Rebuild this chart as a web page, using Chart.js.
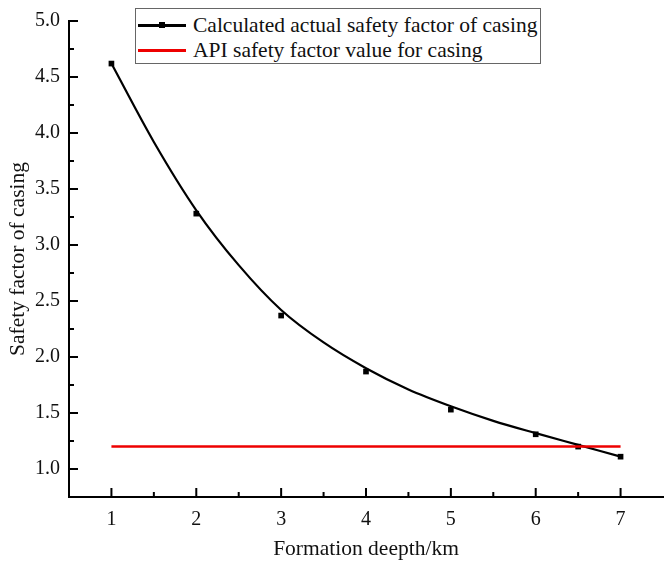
<!DOCTYPE html>
<html lang="en">
<head>
    <meta charset="UTF-8">
    <title>Safety factor of casing</title>
    <style>
        body { margin: 0; background: #fff; }
        .wrap { position: relative; width: 667px; height: 566px; }
        .legend {
            position: absolute; left: 135px; top: 8px; width: 406px; height: 56px;
            border: 1px solid #666; background: #fff; box-sizing: border-box;
            font-family: "Liberation Serif", serif; font-size: 21.5px; color: #111;
        }
        .row { position: absolute; left: 2px; height: 24px; line-height: 24px; white-space: nowrap; }
        .sample { position: absolute; left: 0; top: 11px; width: 48px; height: 2.5px; }
        .mark { position: absolute; left: 21px; top: -2px; width: 6px; height: 6px; background: #000; }
        .txt { position: absolute; left: 55px; top: 0; }
    </style>
</head>
<body>
<div class="wrap">
    <canvas id="chart" width="667" height="566"></canvas>
    <div class="legend">
        <div class="row" style="top:4px"><div class="sample" style="background:#000"><div class="mark"></div></div><span class="txt">Calculated actual safety factor of casing</span></div>
        <div class="row" style="top:29px"><div class="sample" style="background:#ee0000"></div><span class="txt">API safety factor value for casing</span></div>
    </div>
</div>
<script src="https://cdn.jsdelivr.net/npm/chart.js"></script>
<script>
    // measured points
    const depth = [1, 2, 3, 4, 5, 6, 6.5, 7];
    const factor = [4.62, 3.28, 2.37, 1.87, 1.53, 1.31, 1.20, 1.11];
    // fitted curve
    const curveDepth = [1, 1.5, 2, 2.5, 3, 3.5, 4, 4.5, 5, 5.5, 6, 6.5, 7];
    const curveFactor = [4.62, 3.92, 3.31, 2.82, 2.42, 2.13, 1.90, 1.71, 1.56, 1.43, 1.32, 1.215, 1.11];
    // API value
    const apiDepth = [1, 7];
    const apiFactor = [1.2, 1.2];
    const xTicks = [1, 2, 3, 4, 5, 6, 7];
    const yTicks = [1.0, 1.5, 2.0, 2.5, 3.0, 3.5, 4.0, 4.5, 5.0];

    const font = 'Liberation Serif';
    const toXY = (xs, ys) => xs.map((x, i) => ({ x: x, y: ys[i] }));

    // inward major/minor ticks like the original
    const innerTicks = {
        id: 'innerTicks',
        afterDraw(chart) {
            const ctx = chart.ctx, xs = chart.scales.x, ys = chart.scales.y;
            const area = chart.chartArea;
            ctx.save();
            ctx.strokeStyle = '#000';
            ctx.lineWidth = 2;
            ctx.beginPath();
            xTicks.forEach(v => {
                const px = xs.getPixelForValue(v);
                ctx.moveTo(px, area.bottom); ctx.lineTo(px, area.bottom - 9);
                const pm = xs.getPixelForValue(v + 0.5);
                if (v + 0.5 < xs.max) { ctx.moveTo(pm, area.bottom); ctx.lineTo(pm, area.bottom - 5); }
            });
            yTicks.forEach(v => {
                const py = ys.getPixelForValue(v);
                ctx.moveTo(area.left, py); ctx.lineTo(area.left + 9, py);
                if (v - 0.25 > ys.min) {
                    const pm = ys.getPixelForValue(v - 0.25);
                    ctx.moveTo(area.left, pm); ctx.lineTo(area.left + 5, pm);
                }
            });
            ctx.stroke();
            ctx.restore();
        }
    };

    new Chart(document.getElementById('chart'), {
        type: 'scatter',
        data: {
            datasets: [
                {
                    label: 'API safety factor value for casing',
                    data: toXY(apiDepth, apiFactor),
                    showLine: true,
                    borderColor: '#ee0000',
                    borderWidth: 2.5,
                    pointRadius: 0
                },
                {
                    label: 'fit',
                    data: toXY(curveDepth, curveFactor),
                    showLine: true,
                    borderColor: '#000',
                    borderWidth: 2.2,
                    pointRadius: 0,
                    cubicInterpolationMode: 'monotone'
                },
                {
                    label: 'Calculated actual safety factor of casing',
                    data: toXY(depth, factor),
                    backgroundColor: '#000',
                    borderColor: '#000',
                    pointStyle: 'rect',
                    pointRadius: 4,
                    borderWidth: 0
                }
            ]
        },
        options: {
            responsive: false,
            animation: false,
            layout: { padding: { top: 15, right: 0, left: 0, bottom: 0 } },
            plugins: { legend: { display: false }, tooltip: { enabled: false } },
            scales: {
                x: {
                    type: 'linear',
                    min: 0.5,
                    max: 7.5,
                    afterBuildTicks: s => { s.ticks = xTicks.map(v => ({ value: v })); },
                    afterFit: s => { s.height = 69; },
                    grid: { drawOnChartArea: false, drawTicks: false },
                    border: { color: '#000', width: 2 },
                    ticks: { padding: 11, color: '#111', font: { family: font, size: 20 } },
                    title: { display: true, text: 'Formation deepth/km', color: '#111',
                        font: { family: font, size: 21.5 }, padding: { top: 0, bottom: 4 } }
                },
                y: {
                    min: 0.75,
                    max: 5.0,
                    afterBuildTicks: s => { s.ticks = yTicks.map(v => ({ value: v })); },
                    afterFit: s => { s.width = 69; },
                    grid: { drawOnChartArea: false, drawTicks: false },
                    border: { color: '#000', width: 2 },
                    ticks: { padding: 9, color: '#111', font: { family: font, size: 20 },
                        callback: v => v.toFixed(1) },
                    title: { display: true, text: 'Safety factor of casing', color: '#111',
                        font: { family: font, size: 21.5 }, padding: { top: 5, bottom: 0 } }
                }
            }
        },
        plugins: [innerTicks]
    });
</script>
</body>
</html>
